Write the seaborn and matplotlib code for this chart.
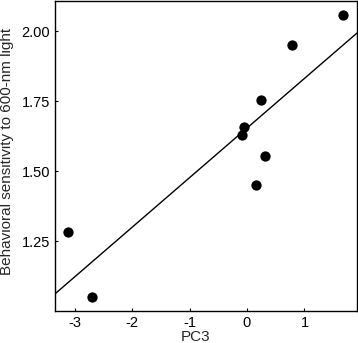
import numpy as np
import pandas as pd
import seaborn as sns
import matplotlib.pyplot as plt

# data
pc3 = [1.67, 0.78, 0.25, -0.05, -0.09, 0.31, 0.16, -3.12, -2.69]
sensitivity = [2.056, 1.951, 1.756, 1.659, 1.630, 1.554, 1.453, 1.284, 1.053]
x_ticks = [-3, -2, -1, 0, 1]
y_ticks = [1.25, 1.50, 1.75, 2.00]

df = pd.DataFrame({"PC3": pc3, "sens": sensitivity})

sns.set_style("ticks")
plt.rcParams["font.family"] = ["Liberation Sans", "DejaVu Sans"]
plt.rcParams["axes.unicode_minus"] = False

fig = plt.figure(figsize=(3.58, 3.43), dpi=100)
ax = fig.add_axes([0.1536, 0.094, 0.843, 0.903])
ax.set_xlim(-3.34, 1.91)
ax.set_ylim(1.003, 2.107)

sns.regplot(data=df, x="PC3", y="sens", ax=ax, ci=None, truncate=False,
            scatter_kws={"s": 55, "color": "black", "linewidths": 0, "alpha": 1},
            line_kws={"color": "black", "linewidth": 1.0})

ax.set_xticks(x_ticks)
ax.set_yticks(y_ticks)
ax.set_xticklabels([str(v) for v in x_ticks])
ax.set_yticklabels([f"{v:.2f}" for v in y_ticks])
ax.tick_params(direction="in", length=2, width=0.8, labelsize=10.5, colors="black", pad=3.5)
for sp in ax.spines.values():
    sp.set_visible(True)
    sp.set_color("black")
    sp.set_linewidth(1.0)

ax.set_xlabel("PC3", fontsize=11)
ax.set_ylabel("Behavioral sensitivity to 600-nm light", fontsize=11)
ax.xaxis.set_label_coords(0.465, -0.063)
ax.yaxis.set_label_coords(-0.135, 0.516)

fig.savefig("out.png", dpi=100)
